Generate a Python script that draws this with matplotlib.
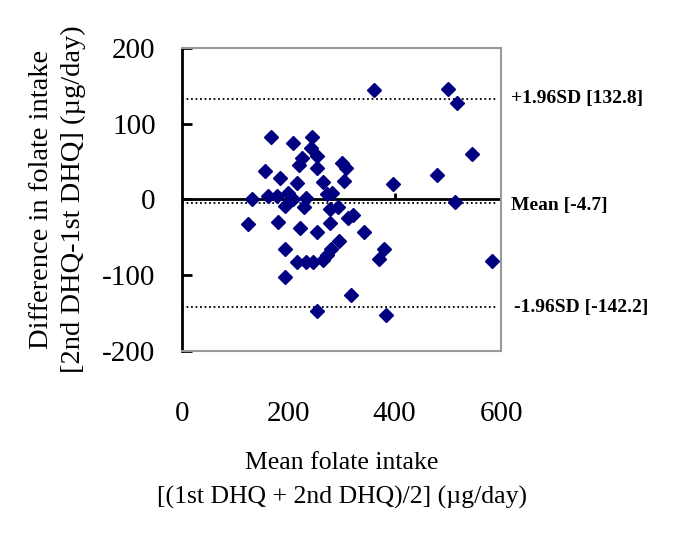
import matplotlib
matplotlib.use("Agg")
import matplotlib.pyplot as plt
import matplotlib.transforms as mtransforms

# mean intake (x) and difference (y)
mean_intake = [168, 209, 245, 242, 253, 225, 220, 156, 253, 184, 216, 265, 300, 308, 304,
               131, 162, 178, 200, 209, 233, 272, 283, 193, 229, 278, 294, 312, 322,
               124, 181, 222, 254, 278, 295, 193, 281, 272, 265, 216, 233, 247, 193,
               318, 253, 362, 500, 517, 546, 480, 396, 513, 342, 380, 370, 583, 384]
difference = [82, 75, 83, 68, 57, 55, 45, 38, 42, 29, 22, 23, 48, 42, 24,
              1, 5, 4, 8, 0, 2, 7, 8, -9, -10, -13, -10, -24, -20,
              -33, -30, -37, -43, -31, -55, -65, -65, -73, -80, -82, -82, -82, -102,
              -126, -147, 145, 146, 128, 60, 32, 20, -3, -43, -65, -78, -81, -152]

mean_diff = -4.7
upper_loa = 132.8
lower_loa = -142.2
line_labels = ["+1.96SD [132.8]", "Mean [-4.7]", "-1.96SD [-142.2]"]

x_ticks = [0, 200, 400, 600]
y_ticks = [-200, -100, 0, 100, 200]

plt.rcParams['font.family'] = ['Liberation Serif', 'DejaVu Serif']

fig = plt.figure(figsize=(6.85, 5.44), dpi=100)
ax = fig.add_axes([0.2657, 0.3548, 0.4657, 0.557])

ax.set_xlim(0, 600)
ax.set_ylim(-200, 200)

# zero axis line and limits of agreement
ax.axhline(0, color='black', lw=2, zorder=2)
ax.hlines([upper_loa, mean_diff, lower_loa], 0, 590, colors='black',
          linestyles=(0, (1, 1.5)), lw=1.3, zorder=2)
# small tick marks on the zero line
ax.vlines(x_ticks[1:], 0, 9, colors='black', lw=2, zorder=2)

ax.plot(mean_intake, difference, linestyle='none', marker='D', ms=7.4,
        color='#000080', zorder=3)

for sp in ['top', 'right', 'bottom']:
    ax.spines[sp].set_color('#999999')
    ax.spines[sp].set_linewidth(1.5)
ax.spines['left'].set_color('black')
ax.spines['left'].set_linewidth(2)

ax.set_xticks(x_ticks)
ax.set_yticks(y_ticks)
ax.tick_params(axis='x', length=0, pad=36, labelsize=21)
ax.tick_params(axis='y', direction='in', length=7, width=2, pad=19, labelsize=21)
ax.set_yticklabels([f"{t}" if t >= 0 else f"-{abs(t)}" for t in y_ticks])

ax.set_xlabel("Mean folate intake\n[(1st DHQ + 2nd DHQ)/2] (\u00b5g/day)",
              fontsize=18.5, linespacing=1.65, labelpad=18)
ax.set_ylabel("Difference in folate intake\n[2nd DHQ-1st DHQ] (\u00b5g/day)",
              fontsize=20.5, linespacing=1.35, labelpad=12)

trans = mtransforms.blended_transform_factory(ax.transAxes, ax.transData)
ax.text(1.03, upper_loa, line_labels[0], transform=trans, fontsize=14,
        fontweight='bold', va='center', ha='left')
ax.text(1.03, mean_diff - 3, line_labels[1], transform=trans, fontsize=14,
        fontweight='bold', va='center', ha='left')
ax.text(1.04, lower_loa, line_labels[2], transform=trans, fontsize=14,
        fontweight='bold', va='center', ha='left')

fig.savefig("out.png", dpi=100)
